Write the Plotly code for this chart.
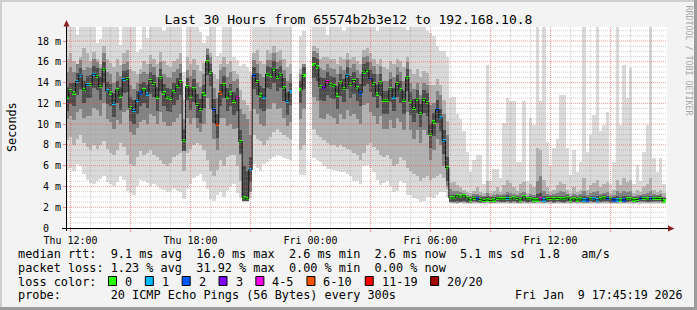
import numpy as np
import pandas as pd
import plotly.graph_objects as go

nan = float("nan")

# ---------------- data (10-minute consolidated samples, values in ms) ----------------
START = "2026-01-08 11:45:00"
N = 180

MEDIAN_MS = [
    12.6, 13.2, 13.0, 14.1, 14.7, 13.3, 13.8, 13.8, 14.8, 14.6,
    13.6, 15.3, 13.2, 13.0, 12.0, 13.3, 12.7, 14.3, 14.4, 11.6,
    11.3, 12.3, 13.0, 13.3, 12.9, 14.2, 13.9, 12.6, 14.5, 13.0,
    12.6, 12.5, 13.1, 13.6, 14.1, 8.4, 13.6, 12.7, 13.4, 11.9,
    11.4, 12.9, 16.0, 15.0, 11.4, 10.0, 13.0, 13.8, 12.6, 13.0,
    12.2, 12.6, 8.3, 2.9, 2.8, 5.6, 14.7, 14.1, 12.8, 12.6,
    14.8, 14.7, 15.3, 14.5, 14.8, 13.5, 12.2, 13.1, nan, nan,
    13.3, 14.7, nan, nan, 15.7, 15.5, 13.6, 13.5, 14.1, 13.8,
    13.7, 12.8, 14.0, 13.4, 14.7, 13.8, 14.2, 13.5, 13.0, 15.0,
    15.2, 14.4, 13.9, 12.9, 14.0, 12.3, 12.3, 13.4, 12.6, 13.9,
    13.3, 12.3, 14.5, 12.2, 11.5, 12.4, 11.0, 12.4, 12.1, 9.0,
    10.2, 11.4, 10.6, 8.4, 5.8, 2.9, 2.9, 3.1, 3.0, 3.1,
    2.9, 2.7, 2.85, 2.8, 2.75, 2.65, 2.7, 2.65, 2.7, 2.85,
    2.8, 2.8, 2.85, 2.8, 2.9, 2.85, 2.7, 3.0, 2.8, 2.8,
    2.7, 2.7, 2.8, 2.7, 2.8, 2.85, 2.8, 2.85, 2.8, 2.8,
    2.9, 2.7, 2.8, 2.7, 2.8, 2.7, 2.7, 2.8, 2.8, 2.7,
    2.8, 2.9, 2.85, 2.8, 2.7, 2.7, 2.7, 2.7, 2.8, 2.8,
    2.7, 2.75, 2.85, 2.85, 2.8, 2.8, 2.85, 2.85, 2.85, 2.6,
]

# lost pings (out of 20) per sample
LOSS = [
    0, 0, 0, 1, 1, 0, 1, 0, 1, 0,
    0, 0, 1, 0, 1, 0, 0, 1, 0, 0,
    1, 1, 2, 0, 1, 0, 0, 0, 0, 0,
    0, 0, 0, 0, 0, 0, 0, 0, 0, 0,
    0, 0, 0, 0, 2, 7, 7, 0, 0, 0,
    0, 4, 0, 0, 0, 1, 2, 0, 0, 1,
    0, 0, 0, 0, 0, 0, 1, 1, 0, 0,
    0, 0, 0, 0, 0, 0, 0, 3, 4, 0,
    0, 0, 0, 0, 1, 0, 0, 0, 2, 0,
    0, 2, 0, 0, 0, 0, 0, 0, 1, 0,
    0, 0, 0, 0, 0, 0, 0, 0, 0, 0,
    0, 2, 1, 1, 0, 0, 0, 0, 0, 0,
    0, 0, 0, 2, 0, 0, 0, 0, 0, 0,
    0, 0, 1, 0, 0, 0, 0, 0, 0, 0,
    0, 0, 4, 1, 0, 0, 0, 0, 0, 0,
    0, 0, 0, 0, 0, 1, 2, 0, 1, 1,
    0, 0, 2, 0, 2, 1, 0, 2, 0, 0,
    0, 0, 2, 0, 0, 2, 0, 0, 0, 0,
]

# smoke: outer (all pings), middle, core and inner bands
SMOKE_HI = [
    20, 20, 20, 18.6, 20, 20, 20, 20, 20, 17.8,
    18.2, 20, 20, 20, 20, 20, 17.6, 20, 20, 20,
    20, 16.9, 17.2, 20, 18.3, 20, 20, 20, 20, 19.0,
    20, 20, 20, 20, 20, 15.0, 20, 20, 20, 20,
    18.9, 17.8, 18.5, 20, 20, 16.6, 16.8, 20, 20, 20,
    16.5, 16.2, 15.6, 15.8, 15.5, 15.0, 20, 20, 20, 20,
    20, 20, 20, 20, 20, 20, 20, 20, nan, nan,
    18.5, 19.0, nan, nan, 20, 20, 20, 20, 18.6, 20,
    20, 20, 20, 19.0, 20, 20, 20, 20, 20, 20,
    20, 20, 20, 19.0, 20, 20, 20, 20, 20, 20,
    20, 20, 19.1, 20, 20, 20, 20, 20, 19.0, 18.8,
    18.5, 17.5, 17.0, 17.0, 16.5, 12.5, 12.6, 11.0, 10.5, 9.3,
    7.3, 5.4, 6.5, 7.0, 7.0, 4.2, 15.7, 4.5, 5.7, 5.7,
    4.8, 10.1, 12.5, 12.2, 12.2, 6.4, 6.4, 12.2, 4.5, 10.6,
    9.9, 20, 12.2, 20, 8.3, 6.0, 7.7, 8.6, 12.8, 12.8,
    7.7, 5.1, 7.5, 5.4, 6.4, 20, 7.3, 9.0, 10.9, 20,
    9.3, 9.9, 11.2, 4.2, 6.4, 20, 9.9, 15.7, 12.5, 15.4,
    4.2, 6.1, 4.5, 7.3, 9.9, 20, 6.7, 5.4, 6.7, 4.2,
]
SMOKE_LO = [
    5.6, 5.8, 5.5, 6.2, 6.0, 5.2, 4.6, 4.3, 4.2, 4.5,
    4.7, 5.0, 4.4, 4.2, 4.0, 4.4, 5.0, 4.6, 3.6, 3.4,
    3.2, 4.0, 4.6, 4.5, 4.3, 4.0, 4.2, 4.0, 3.8, 3.7,
    3.5, 3.6, 3.8, 3.6, 3.5, 2.8, 3.8, 4.2, 4.8, 5.0,
    5.2, 4.5, 3.8, 2.8, 2.6, 3.2, 3.5, 3.0, 3.6, 4.0,
    4.2, 3.4, 3.0, 2.5, 2.5, 2.9, 6.2, 5.8, 5.5, 6.2,
    6.4, 6.6, 6.8, 7.0, 6.9, 6.7, 6.6, 6.5, nan, nan,
    5.1, 5.1, nan, nan, 6.7, 6.5, 6.4, 6.0, 5.7, 5.7,
    5.6, 5.5, 5.4, 5.4, 5.2, 5.0, 4.5, 4.5, 4.2, 6.0,
    6.1, 5.8, 5.4, 4.6, 4.1, 4.3, 4.5, 4.0, 3.5, 3.6,
    4.5, 4.3, 3.2, 3.2, 2.9, 2.8, 2.5, 2.6, 3.0, 3.0,
    2.9, 3.2, 3.5, 3.5, 3.0, 2.4, 2.35, 2.35, 2.4, 2.35,
    2.35, 2.3, 2.35, 2.35, 2.3, 2.3, 2.35, 2.3, 2.35, 2.35,
    2.3, 2.35, 2.35, 2.3, 2.35, 2.3, 2.35, 2.35, 2.3, 2.35,
    2.3, 2.35, 2.3, 2.3, 2.35, 2.35, 2.3, 2.35, 2.35, 2.3,
    2.35, 2.3, 2.35, 2.3, 2.35, 2.3, 2.3, 2.35, 2.35, 2.3,
    2.35, 2.35, 2.35, 2.3, 2.3, 2.3, 2.35, 2.3, 2.35, 2.35,
    2.3, 2.35, 2.35, 2.35, 2.35, 2.35, 2.35, 2.35, 2.35, 2.3,
]
SMOKE_MID_HI = [
    16.3, 16.8, 16.1, 15.8, 16.5, 17.3, 16.8, 16.1, 16.9, 16.3,
    15.8, 17.5, 16.3, 15.9, 15.5, 16.3, 15.7, 16.8, 17.1, 15.3,
    15.1, 14.8, 15.3, 16.1, 15.8, 16.7, 16.3, 15.8, 16.9, 16.1,
    15.7, 15.5, 16.1, 16.3, 16.8, 12.3, 16.5, 15.8, 16.3, 15.7,
    15.1, 15.9, 17.3, 16.8, 14.8, 14.3, 15.8, 16.5, 15.8, 16.1,
    15.1, 14.8, 13.3, 12.3, 11.8, 11.3, 16.8, 17.1, 16.1, 15.8,
    17.1, 16.8, 17.5, 16.9, 17.1, 16.3, 15.5, 15.8, nan, nan,
    15.3, 15.8, nan, nan, 17.5, 17.3, 16.3, 16.5, 16.5, 16.3,
    16.3, 15.8, 16.5, 16.3, 16.8, 16.3, 16.5, 16.1, 15.8, 17.1,
    17.3, 16.8, 16.3, 15.8, 16.3, 15.5, 15.3, 16.1, 15.8, 16.3,
    16.1, 15.5, 16.5, 15.3, 14.8, 15.3, 14.5, 15.1, 14.9, 13.8,
    13.8, 14.3, 13.8, 12.3, 10.3, 4.3, 4.4, 4.1, 3.9, 3.7,
    3.5, 3.4, 3.6, 3.9, 3.5, 3.4, 4.5, 3.4, 3.6, 3.9,
    3.5, 4.1, 4.6, 4.3, 3.9, 3.6, 4.2, 4.4, 3.4, 4.2,
    3.9, 7.7, 7.5, 4.6, 3.9, 3.5, 3.7, 4.1, 4.4, 4.2,
    3.7, 3.4, 3.9, 3.5, 3.7, 4.8, 3.7, 4.1, 4.3, 4.6,
    3.9, 4.2, 4.4, 3.4, 3.7, 4.6, 4.1, 4.8, 4.4, 4.6,
    3.4, 3.7, 3.5, 3.9, 4.2, 4.8, 3.7, 3.5, 3.7, 3.4,
]
SMOKE_MID_LO = [
    8.5, 8.8, 8.0, 8.6, 9.0, 8.2, 7.8, 7.5, 8.0, 7.6,
    8.0, 8.4, 7.6, 7.2, 7.0, 7.5, 8.2, 7.8, 7.0, 6.2,
    6.0, 6.8, 7.4, 7.0, 7.2, 7.5, 7.0, 6.8, 6.5, 6.2,
    6.0, 6.3, 6.8, 7.0, 7.2, 5.5, 7.2, 7.6, 8.0, 8.2,
    8.0, 7.5, 6.5, 5.5, 5.0, 5.6, 6.5, 6.0, 6.8, 7.0,
    7.0, 6.0, 4.5, 2.6, 2.6, 4.5, 9.0, 8.6, 8.4, 8.0,
    8.5, 8.8, 9.2, 9.5, 9.2, 9.0, 8.8, 8.6, nan, nan,
    7.5, 8.0, nan, nan, 9.5, 9.0, 8.8, 8.5, 8.2, 8.0,
    8.0, 7.8, 8.0, 7.8, 7.6, 7.5, 7.2, 7.0, 6.5, 7.2,
    8.0, 8.2, 7.8, 7.5, 7.0, 6.8, 7.0, 6.6, 6.0, 6.2,
    6.8, 6.5, 5.8, 5.5, 5.2, 5.0, 4.5, 4.8, 5.0, 4.6,
    4.8, 5.0, 5.2, 4.8, 3.8, 2.45, 2.45, 2.4, 2.45, 2.4,
    2.4, 2.4, 2.45, 2.4, 2.4, 2.4, 2.45, 2.4, 2.4, 2.4,
    2.4, 2.45, 2.45, 2.4, 2.45, 2.4, 2.4, 2.45, 2.4, 2.45,
    2.4, 2.45, 2.4, 2.4, 2.45, 2.45, 2.4, 2.45, 2.4, 2.4,
    2.45, 2.4, 2.45, 2.4, 2.4, 2.4, 2.4, 2.45, 2.45, 2.4,
    2.45, 2.45, 2.45, 2.4, 2.4, 2.4, 2.45, 2.4, 2.45, 2.45,
    2.4, 2.45, 2.45, 2.45, 2.4, 2.45, 2.45, 2.45, 2.45, 2.4,
]
SMOKE_CORE_HI = [
    15.0, 15.5, 15.0, 15.8, 16.2, 15.2, 15.5, 15.4, 16.3, 16.0,
    15.4, 16.8, 15.0, 14.8, 14.0, 15.0, 14.6, 15.8, 16.0, 13.8,
    13.4, 14.0, 14.8, 15.0, 14.8, 15.8, 15.5, 14.5, 16.0, 14.8,
    14.5, 14.4, 15.0, 15.3, 15.8, 10.5, 15.2, 14.6, 15.2, 14.0,
    13.6, 14.8, 17.2, 16.5, 13.5, 12.5, 15.2, 15.5, 14.5, 15.0,
    14.2, 14.3, 11.5, 11.0, 10.5, 9.0, 16.2, 15.8, 14.8, 14.5,
    16.2, 16.2, 16.8, 16.0, 16.2, 15.2, 14.2, 14.8, nan, nan,
    14.8, 15.8, nan, nan, 17.0, 16.8, 15.4, 15.2, 15.8, 15.4,
    15.3, 14.8, 15.6, 15.2, 16.2, 15.4, 15.8, 15.2, 14.8, 16.5,
    16.6, 16.0, 15.6, 14.8, 15.6, 14.2, 14.2, 15.0, 14.5, 15.5,
    15.0, 14.2, 16.0, 14.0, 13.4, 14.0, 12.8, 14.0, 13.8, 11.8,
    12.0, 13.2, 12.8, 11.0, 9.0, 3.8, 3.6, 3.6, 3.5, 3.4,
    3.2, 3.1, 3.3, 3.3, 3.2, 3.1, 3.4, 3.1, 3.2, 3.3,
    3.2, 3.3, 3.5, 3.4, 3.3, 3.2, 3.4, 3.5, 3.1, 3.3,
    3.2, 4.5, 5.0, 3.6, 3.3, 3.2, 3.3, 3.4, 3.6, 3.5,
    3.3, 3.1, 3.3, 3.2, 3.3, 3.6, 3.2, 3.4, 3.5, 3.6,
    3.3, 3.4, 3.5, 3.1, 3.2, 3.6, 3.4, 3.6, 3.5, 3.6,
    3.1, 3.2, 3.2, 3.3, 3.4, 3.6, 3.3, 3.2, 3.3, 3.0,
]
SMOKE_CORE_LO = [
    10.5, 10.8, 10.4, 11.2, 11.5, 10.6, 10.8, 10.8, 11.6, 11.4,
    10.8, 12.0, 10.5, 10.2, 9.5, 10.4, 10.0, 11.2, 11.4, 9.2,
    9.0, 9.6, 10.2, 10.4, 10.0, 11.0, 10.8, 10.0, 11.2, 10.2,
    9.8, 9.8, 10.2, 10.6, 11.0, 7.4, 10.6, 10.0, 10.6, 9.6,
    9.2, 10.0, 12.5, 11.5, 8.6, 7.5, 10.6, 10.6, 9.8, 10.0,
    9.5, 9.6, 7.0, 2.65, 2.6, 3.5, 11.5, 11.0, 10.0, 9.8,
    11.5, 11.5, 12.0, 11.5, 11.6, 10.6, 9.8, 10.2, nan, nan,
    10.5, 11.5, nan, nan, 12.6, 12.2, 10.6, 10.5, 11.0, 10.8,
    10.6, 10.0, 11.0, 10.5, 11.4, 10.8, 11.0, 10.5, 10.0, 11.8,
    12.0, 11.2, 10.8, 10.0, 10.8, 9.5, 9.5, 10.4, 9.6, 10.6,
    10.2, 9.4, 11.2, 9.4, 8.6, 9.4, 8.2, 9.4, 9.0, 6.5,
    7.5, 8.6, 8.0, 6.0, 4.0, 2.5, 2.5, 2.45, 2.5, 2.5,
    2.45, 2.45, 2.5, 2.5, 2.45, 2.45, 2.5, 2.45, 2.45, 2.5,
    2.5, 2.5, 2.5, 2.45, 2.5, 2.45, 2.45, 2.5, 2.45, 2.5,
    2.45, 2.5, 2.5, 2.45, 2.5, 2.5, 2.45, 2.5, 2.5, 2.45,
    2.5, 2.45, 2.5, 2.45, 2.5, 2.45, 2.45, 2.5, 2.5, 2.45,
    2.5, 2.5, 2.5, 2.45, 2.45, 2.45, 2.5, 2.45, 2.5, 2.5,
    2.45, 2.5, 2.5, 2.5, 2.5, 2.5, 2.5, 2.5, 2.5, 2.45,
]
SMOKE_INNER_HI = [
    13.6, 14.0, 14.0, 14.9, 15.4, 14.2, 14.6, 14.7, 15.6, 15.4,
    14.5, 16.0, 14.1, 13.9, 13.0, 14.2, 13.6, 15.1, 15.2, 12.6,
    12.3, 13.2, 13.9, 14.1, 13.8, 15.0, 14.7, 13.6, 15.3, 13.9,
    13.5, 13.4, 14.0, 14.4, 14.9, 9.5, 14.4, 13.6, 14.3, 12.9,
    12.4, 13.8, 16.7, 15.8, 12.4, 11.0, 13.9, 14.6, 13.5, 13.9,
    13.1, 13.5, 9.4, 6.0, 5.5, 6.8, 15.5, 14.9, 13.7, 13.5,
    15.6, 15.5, 16.1, 15.3, 15.6, 14.4, 13.1, 14.0, nan, nan,
    14.2, 15.5, nan, nan, 16.5, 16.3, 14.5, 14.4, 15.0, 14.6,
    14.5, 13.7, 14.8, 14.3, 15.5, 14.6, 15.0, 14.4, 13.9, 15.8,
    16.0, 15.2, 14.8, 13.8, 14.8, 13.2, 13.2, 14.3, 13.5, 14.7,
    14.2, 13.2, 15.3, 13.1, 12.4, 13.3, 11.9, 13.3, 13.0, 10.0,
    11.1, 12.3, 11.5, 9.4, 6.8, 3.2, 3.2, 3.3, 3.2, 3.2,
    3.1, 3.0, 3.1, 3.1, 3.0, 3.0, 3.1, 3.0, 3.0, 3.1,
    3.1, 3.1, 3.2, 3.1, 3.1, 3.1, 3.0, 3.2, 3.0, 3.1,
    3.0, 3.3, 3.4, 3.1, 3.1, 3.1, 3.1, 3.1, 3.1, 3.1,
    3.2, 3.0, 3.1, 3.0, 3.1, 3.1, 3.0, 3.1, 3.1, 3.1,
    3.1, 3.2, 3.1, 3.0, 3.0, 3.1, 3.0, 3.1, 3.1, 3.1,
    3.0, 3.0, 3.1, 3.1, 3.1, 3.1, 3.1, 3.1, 3.1, 2.9,
]
SMOKE_INNER_LO = [
    11.3, 11.9, 11.7, 12.8, 13.4, 12.0, 12.5, 12.5, 13.5, 13.3,
    12.3, 14.0, 11.9, 11.7, 10.7, 12.0, 11.4, 13.0, 13.1, 10.3,
    10.0, 11.0, 11.7, 12.0, 11.6, 12.9, 12.6, 11.3, 13.2, 11.7,
    11.3, 11.2, 11.8, 12.3, 12.8, 7.4, 12.3, 11.4, 12.1, 10.6,
    10.1, 11.6, 14.7, 13.7, 10.1, 8.7, 11.7, 12.5, 11.3, 11.7,
    10.9, 11.3, 7.2, 2.6, 2.6, 4.4, 13.4, 12.8, 11.5, 11.3,
    13.5, 13.4, 14.0, 13.2, 13.5, 12.2, 10.9, 11.8, nan, nan,
    12.0, 13.4, nan, nan, 14.4, 14.2, 12.3, 12.2, 12.8, 12.5,
    12.4, 11.5, 12.7, 12.1, 13.4, 12.5, 12.9, 12.2, 11.7, 13.7,
    13.9, 13.1, 12.6, 11.6, 12.7, 11.0, 11.0, 12.1, 11.3, 12.6,
    12.0, 11.0, 13.2, 10.9, 10.2, 11.1, 9.7, 11.1, 10.8, 7.7,
    8.9, 10.1, 9.3, 7.1, 4.5, 2.55, 2.55, 2.6, 2.55, 2.6,
    2.55, 2.55, 2.6, 2.55, 2.55, 2.5, 2.55, 2.5, 2.55, 2.6,
    2.55, 2.55, 2.6, 2.55, 2.6, 2.55, 2.55, 2.6, 2.55, 2.55,
    2.55, 2.55, 2.6, 2.55, 2.55, 2.6, 2.55, 2.6, 2.55, 2.55,
    2.6, 2.55, 2.55, 2.55, 2.55, 2.55, 2.55, 2.6, 2.55, 2.55,
    2.55, 2.6, 2.6, 2.55, 2.55, 2.55, 2.55, 2.55, 2.55, 2.6,
    2.55, 2.55, 2.6, 2.6, 2.55, 2.55, 2.6, 2.6, 2.6, 2.5,
]

LOSS_BINS = [(0, 0, "#26ff00", "0"), (1, 1, "#00b8ff", "1"), (2, 2, "#0059ff", "2"),
             (3, 3, "#7e00ff", "3"), (4, 5, "#ff00ea", "4-5"), (6, 10, "#ff5500", "6-10"),
             (11, 19, "#ff0000", "11-19"), (20, 20, "#a10000", "20/20")]

Y_TICKS = [0, 2, 4, 6, 8, 10, 12, 14, 16, 18]
Y_TICK_TEXT = ["0\u00a0\u00a0", "2 m", "4 m", "6 m", "8 m", "10 m", "12 m", "14 m", "16 m", "18 m"]
X_TICKS = ["2026-01-08 12:00", "2026-01-08 15:00", "2026-01-08 18:00", "2026-01-08 21:00",
           "2026-01-09 00:00", "2026-01-09 03:00", "2026-01-09 06:00", "2026-01-09 09:00",
           "2026-01-09 12:00", "2026-01-09 15:00"]
X_TICK_TEXT = ["Thu 12:00", "", "Thu 18:00", "", "Fri 00:00", "", "Fri 06:00", "", "Fri 12:00", ""]

TITLE = "Last 30 Hours from 65574b2b3e12 to 192.168.10.8"
ROW1 = "median rtt:  9.1 ms avg  16.0 ms max  2.6 ms min  2.6 ms now  5.1 ms sd  1.8   am/s"
ROW2 = "packet loss: 1.23 % avg  31.92 % max  0.00 % min  0.00 % now"
ROW3 = "loss color:"
ROW4 = "probe:       20 ICMP Echo Pings (56 Bytes) every 300s"
STAMP = "Fri Jan  9 17:45:19 2026"

for arr in (MEDIAN_MS, LOSS, SMOKE_HI, SMOKE_LO, SMOKE_MID_HI, SMOKE_MID_LO,
            SMOKE_CORE_HI, SMOKE_CORE_LO, SMOKE_INNER_HI, SMOKE_INNER_LO):
    assert len(arr) == N, len(arr)

# ---------------- figure ----------------
W, H = 697, 310
PL, PR, PT, PB = 67, 667, 27, 228
MONO = "DejaVu Sans Mono"


def px(x):
    return (x - PL) / (PR - PL)


def py(y):
    return (PB - y) / (PB - PT)


def nb(s):
    return s.replace(" ", "\u00a0")


t = pd.date_range(START, periods=N, freq="10min") + pd.Timedelta(minutes=5)
WIDTH_MS = 10 * 60 * 1000


def band(lo, hi, color):
    lo = np.array(lo, float)
    hi = np.array(hi, float)
    return go.Bar(x=t, base=lo, y=hi - lo, width=WIDTH_MS,
                  marker=dict(color=color, line=dict(width=0)),
                  hoverinfo="skip", showlegend=False)


fig = go.Figure()
fig.add_trace(band(SMOKE_LO, SMOKE_HI, "#dadada"))
fig.add_trace(band(SMOKE_MID_LO, SMOKE_MID_HI, "#b2b2b2"))
fig.add_trace(band(SMOKE_CORE_LO, SMOKE_CORE_HI, "#828282"))
fig.add_trace(band(SMOKE_INNER_LO, SMOKE_INNER_HI, "#4c4c4c"))

med = np.array(MEDIAN_MS, float)
fig.add_trace(go.Scatter(x=t, y=med, mode="lines", connectgaps=False,
                         line=dict(color="#111111", width=1, shape="hvh"),
                         hoverinfo="skip", showlegend=False))


def loss_color(n):
    for lo, hi, c, _ in LOSS_BINS:
        if lo <= n <= hi:
            return c
    return LOSS_BINS[-1][2]


blk_h = np.where(np.isnan(med), np.nan, 0.3)
fig.add_trace(go.Bar(x=t, base=med - 0.15, y=blk_h, width=WIDTH_MS,
                     marker=dict(color=[loss_color(n) for n in LOSS], line=dict(width=0)),
                     hoverinfo="skip", showlegend=False))

shapes = []
RED = "rgba(240,70,70,0.55)"
GRAY = "rgba(150,150,150,0.45)"
for h in pd.date_range("2026-01-08 12:00", "2026-01-09 17:00", freq="1h"):
    major = h.hour % 3 == 0
    s = h.strftime("%Y-%m-%d %H:%M:%S")
    shapes.append(dict(type="line", xref="x", yref="paper", x0=s, x1=s, y0=0, y1=1, layer="above",
                       line=dict(color=RED if major else GRAY, width=1, dash="1px,1px")))
for k in range(1, 39):
    v = k * 0.5
    major = k % 4 == 0
    shapes.append(dict(type="line", xref="paper", yref="y", x0=0, x1=1, y0=v, y1=v, layer="above",
                       line=dict(color=RED if major else GRAY, width=1, dash="1px,1px")))

# axes with arrows
shapes.append(dict(type="line", xref="paper", yref="paper", x0=px(62), x1=px(669), y0=py(228.5), y1=py(228.5),
                   line=dict(color="#000000", width=1), layer="above"))
shapes.append(dict(type="line", xref="paper", yref="paper", x0=px(66.5), x1=px(66.5), y0=py(231), y1=py(24),
                   line=dict(color="#000000", width=1), layer="above"))
ARROW = "#8b1f1f"
shapes.append(dict(type="path", xref="paper", yref="paper", layer="above",
                   path=f"M {px(668)},{py(225.5)} L {px(674.5)},{py(228.5)} L {px(668)},{py(231.5)} Z",
                   fillcolor=ARROW, line=dict(width=0)))
shapes.append(dict(type="path", xref="paper", yref="paper", layer="above",
                   path=f"M {px(63.5)},{py(26.5)} L {px(66.5)},{py(20)} L {px(69.5)},{py(26.5)} Z",
                   fillcolor=ARROW, line=dict(width=0)))

# canvas frame
for x0, x1, y0, y1, c in [(0, 697, 0, 2, "#cfcfcf"), (0, 2, 0, 310, "#cfcfcf"),
                          (694, 697, 0, 310, "#9c9c9c"), (0, 697, 307, 310, "#9c9c9c")]:
    shapes.append(dict(type="rect", xref="paper", yref="paper", x0=px(x0), x1=px(x1), y0=py(y1), y1=py(y0),
                       fillcolor=c, line=dict(width=0), layer="above"))

annotations = []
LEG = 11.85
for text, yc in [(ROW1, 254.2), (ROW2, 267.9), (ROW3, 281.6), (ROW4, 295.2)]:
    annotations.append(dict(text=nb(text), xref="paper", yref="paper", x=px(16), y=py(yc),
                            xanchor="left", yanchor="middle", showarrow=False,
                            font=dict(family=MONO, size=LEG, color="#000")))
annotations.append(dict(text=nb(STAMP), xref="paper", yref="paper", x=px(513), y=py(295.2),
                        xanchor="left", yanchor="middle", showarrow=False,
                        font=dict(family=MONO, size=11.6, color="#000")))

bx = 108.0
for lo, hi, c, lab in LOSS_BINS:
    shapes.append(dict(type="rect", xref="paper", yref="paper", x0=px(bx + 0.5), x1=px(bx + 8.5),
                       y0=py(285.5), y1=py(276.5), fillcolor=c, line=dict(color="#000", width=1), layer="above"))
    annotations.append(dict(text=nb(lab), xref="paper", yref="paper", x=px(bx + 15), y=py(281.6),
                            xanchor="left", yanchor="middle", showarrow=False,
                            font=dict(family=MONO, size=LEG, color="#000")))
    bx += 29.7 + 7.14 * len(lab)

annotations.append(dict(text="Seconds", xref="paper", yref="paper", x=px(11.5), y=py(127.5),
                        textangle=-90, xanchor="center", yanchor="middle", showarrow=False,
                        font=dict(family=MONO, size=11.8, color="#000")))
annotations.append(dict(text=nb("RRDTOOL / TOBI OETIKER"), xref="paper", yref="paper", x=px(688.5), y=py(60),
                        textangle=90, xanchor="center", yanchor="middle", showarrow=False,
                        font=dict(family=MONO, size=8.3, color="#a8a8a8")))

fig.update_layout(
    width=W, height=H, autosize=False,
    margin=dict(l=PL, r=W - PR, t=PT, b=H - PB, pad=0),
    paper_bgcolor="#f3f3f3", plot_bgcolor="#ffffff",
    barmode="overlay", bargap=0, showlegend=False,
    font=dict(family=MONO, size=10, color="#000"),
    title=dict(text=TITLE, x=0.5, xanchor="center", xref="container",
               y=1 - 19.8 / H, yanchor="middle", yref="container",
               font=dict(family=MONO, size=13, color="#000")),
    xaxis=dict(type="date", range=["2026-01-08 11:49:30", "2026-01-09 17:49:30"],
               tickmode="array", tickvals=X_TICKS, ticktext=X_TICK_TEXT,
               ticks="outside", ticklen=3, tickcolor="#f08a8a", tickwidth=1,
               showgrid=False, zeroline=False, showline=False,
               tickfont=dict(family=MONO, size=10, color="#000"),
               minor=dict(tickmode="linear", tick0="2026-01-08 12:00", dtick=3600000,
                          ticks="outside", ticklen=2, tickcolor="#c8c8c8", showgrid=False)),
    yaxis=dict(range=[0, 19.35], tickmode="array", tickvals=Y_TICKS, ticktext=Y_TICK_TEXT,
               ticks="outside", ticklen=3, tickcolor="#f08a8a",
               showgrid=False, zeroline=False, showline=False,
               tickfont=dict(family=MONO, size=10, color="#000")),
    shapes=shapes, annotations=annotations,
)

fig.write_html("out.html", config={"displayModeBar": False})
